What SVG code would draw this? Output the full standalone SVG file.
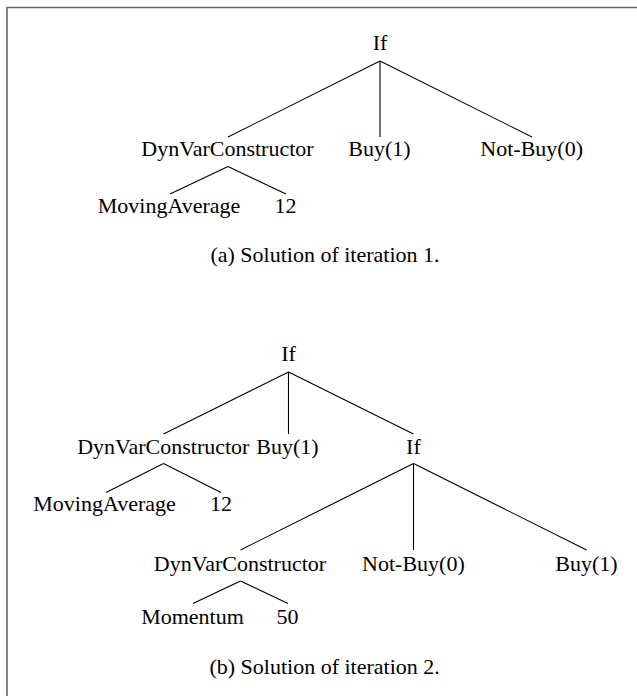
<svg xmlns="http://www.w3.org/2000/svg" width="637" height="696" viewBox="0 0 637 696">
<style>
  text { font-family: "Liberation Serif", "Times New Roman", serif; font-size: 22px; fill: #000; text-anchor: middle; }
  .edge { stroke: #000; stroke-width: 1.1; fill: none; }
  .frame { stroke: #666; stroke-width: 1.6; fill: none; }
</style>
<rect width="637" height="696" fill="#fff"/>
<path class="frame" d="M7,696 V7.5 H637"/>

<g id="connectors">
  <!-- (a) -->
  <line class="edge" x1="380" y1="61" x2="228" y2="137"/>
  <line class="edge" x1="380" y1="61" x2="380" y2="137"/>
  <line class="edge" x1="380" y1="61" x2="532" y2="137"/>
  <line class="edge" x1="228" y1="166.5" x2="170" y2="194"/>
  <line class="edge" x1="228" y1="166.5" x2="286" y2="194"/>
  <!-- (b) -->
  <line class="edge" x1="288.5" y1="372" x2="163.5" y2="434"/>
  <line class="edge" x1="288.5" y1="372" x2="288.5" y2="434"/>
  <line class="edge" x1="288.5" y1="372" x2="413.5" y2="434"/>
  <line class="edge" x1="163.5" y1="463.5" x2="106" y2="492.5"/>
  <line class="edge" x1="163.5" y1="463.5" x2="221" y2="492.5"/>
  <line class="edge" x1="413.5" y1="463.5" x2="240.5" y2="550"/>
  <line class="edge" x1="413.5" y1="463.5" x2="413.5" y2="550"/>
  <line class="edge" x1="413.5" y1="463.5" x2="586.5" y2="550"/>
  <line class="edge" x1="240.5" y1="581" x2="193" y2="603.5"/>
  <line class="edge" x1="240.5" y1="581" x2="288" y2="603.5"/>
</g>

<!-- (a) Solution of iteration 1 -->
<g id="a-if"><text x="380" y="50">If</text></g>
<g id="a-dynvar"><text x="227.5" y="156">DynVarConstructor</text></g>
<g id="a-buy"><text x="379.5" y="156">Buy(1)</text></g>
<g id="a-notbuy"><text x="531.7" y="156">Not-Buy(0)</text></g>
<g id="a-ma"><text x="169" y="213">MovingAverage</text></g>
<g id="a-12"><text x="285.5" y="213">12</text></g>
<g id="a-caption"><text x="325" y="262">(a) Solution of iteration 1.</text></g>

<!-- (b) Solution of iteration 2 -->
<g id="b-if"><text x="288.5" y="361">If</text></g>
<g id="b-dynvar1"><text x="163.3" y="453.5">DynVarConstructor</text></g>
<g id="b-buy1"><text x="287.5" y="453.5">Buy(1)</text></g>
<g id="b-if2"><text x="413.4" y="453.5">If</text></g>
<g id="b-ma"><text x="104.5" y="510.5">MovingAverage</text></g>
<g id="b-12"><text x="221" y="510.5">12</text></g>
<g id="b-dynvar2"><text x="240" y="570.5">DynVarConstructor</text></g>
<g id="b-notbuy"><text x="413.4" y="570.5">Not-Buy(0)</text></g>
<g id="b-buy2"><text x="586.5" y="570.5">Buy(1)</text></g>
<g id="b-momentum"><text x="192.5" y="624">Momentum</text></g>
<g id="b-50"><text x="287.5" y="624">50</text></g>
<g id="b-caption"><text x="324.6" y="674">(b) Solution of iteration 2.</text></g>
</svg>
